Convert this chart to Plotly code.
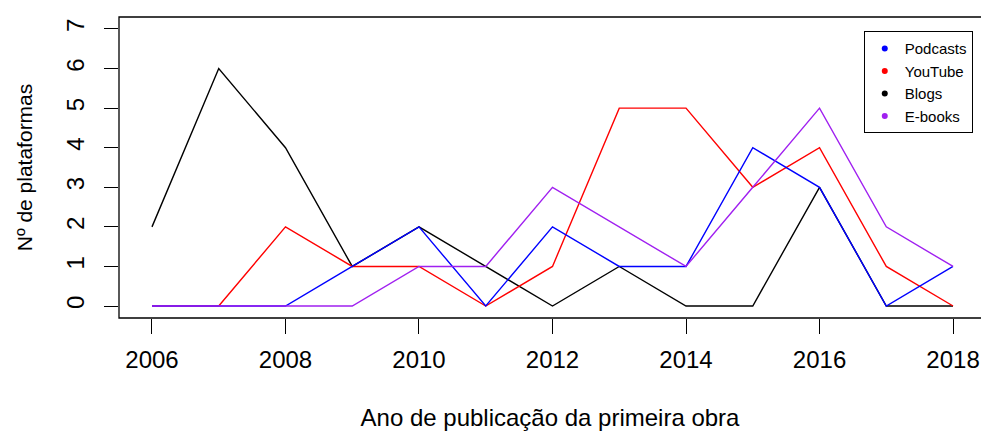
import plotly.graph_objects as go

years = list(range(2006, 2019))
podcasts = [0, 0, 0, 1, 2, 0, 2, 1, 1, 4, 3, 0, 1]
youtube = [0, 0, 2, 1, 1, 0, 1, 5, 5, 3, 4, 1, 0]
blogs = [2, 6, 4, 1, 2, 1, 0, 1, 0, 0, 3, 0, 0]
ebooks = [0, 0, 0, 0, 1, 1, 3, 2, 1, 3, 5, 2, 1]
x_ticks = [2006, 2008, 2010, 2012, 2014, 2016, 2018]
y_ticks = [0, 1, 2, 3, 4, 5, 6, 7]

series = [
    ("Blogs", blogs, "#000000", 3),
    ("YouTube", youtube, "#FF0000", 2),
    ("Podcasts", podcasts, "#0000FF", 1),
    ("E-books", ebooks, "#A020F0", 4),
]

fig = go.Figure()
for name, vals, col, rank in series:
    fig.add_trace(go.Scatter(x=years, y=vals, mode="lines", name=name,
                             line=dict(color=col, width=1.4), showlegend=False))
for name, vals, col, rank in series:
    fig.add_trace(go.Scatter(x=[None], y=[None], mode="markers", name=name,
                             marker=dict(color=col, size=6), legendrank=rank))

W, H = 981, 431
L, R, T, B = 119, 0, 17, 113

fig.update_layout(
    width=W, height=H,
    margin=dict(l=L, r=R, t=T, b=B, pad=0, autoexpand=False),
    paper_bgcolor="white", plot_bgcolor="white",
    font=dict(family="Liberation Sans, Arial, sans-serif", color="#000000"),
    showlegend=True,
    legend=dict(x=0.864, y=0.953, xanchor="left", yanchor="top",
                bgcolor="white", bordercolor="#000000", borderwidth=1,
                font=dict(size=15, color="#000000"), tracegroupgap=0,
                itemwidth=30),
    xaxis=dict(range=[2005.506, 2018.419], tickmode="array", tickvals=x_ticks,
               ticktext=[str(v) for v in x_ticks], automargin=False,
               showgrid=False, zeroline=False, showline=False,
               ticks="outside", ticklen=15, tickwidth=1, tickcolor="#000000",
               tickfont=dict(size=24), ticklabelstandoff=5,
               title=dict(text="Ano de publicação da primeira obra",
                          font=dict(size=24), standoff=39)),
    yaxis=dict(range=[-0.303, 7.303], tickmode="array", tickvals=y_ticks,
               ticktext=[str(v) for v in y_ticks], tickangle=-90, automargin=False,
               showgrid=False, zeroline=False, showline=False,
               ticks="outside", ticklen=14, tickwidth=1, tickcolor="#000000",
               tickfont=dict(size=24), ticklabelstandoff=10,
               title=dict(text="Nº de plataformas", font=dict(size=21), standoff=24)),
    shapes=[dict(type="rect", xref="paper", yref="paper", x0=0, y0=0, x1=1.01, y1=1,
                 line=dict(color="#000000", width=1.3), fillcolor="rgba(0,0,0,0)",
                 layer="above")],
)

fig.write_html(
    "out.html",
    config={"displayModeBar": False},
    post_script=(
        "document.body.style.margin='0';"
        "document.body.style.overflow='hidden';"
        "document.documentElement.style.overflow='hidden';"
    ),
)
